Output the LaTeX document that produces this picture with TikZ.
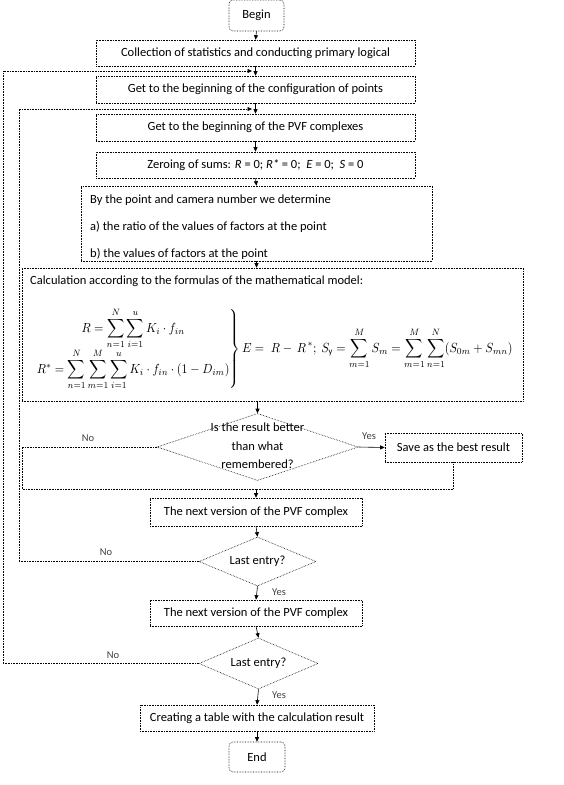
\documentclass[tikz,border=0pt]{standalone}
\usepackage{fontspec}
\setmainfont{Carlito}
\usepackage{amsmath}
\usetikzlibrary{arrows.meta,shapes.geometric}
\begin{document}
\begin{tikzpicture}[x=1pt,y=-1pt,
  box/.style={draw,densely dotted,line width=0.6pt,inner sep=0pt,font=\fontsize{12.5}{15}\selectfont},
  term/.style={box,rounded corners=4pt},
  dia/.style={draw,densely dotted,line width=0.6pt,diamond,inner sep=0pt},
  txt/.style={inner sep=0pt,font=\fontsize{12.5}{15}\selectfont,align=center},
  lbl/.style={inner sep=0pt,font=\fontsize{10.5}{12}\selectfont,text=black!75},
  arr/.style={line width=0.6pt,-{Triangle[length=4.5pt,width=4pt]}},
  loopline/.style={densely dotted,line width=0.6pt},
  looparr/.style={densely dotted,line width=0.6pt,-{Triangle[length=4.5pt,width=4pt]}}]
\useasboundingbox (0,0) rectangle (564,785);

\node[term,minimum width=55pt,minimum height=31pt] (begin) at (256.5,15.5) {Begin};
\node[box,minimum width=319pt,minimum height=26pt] (b1) at (255.5,53) {Collection of statistics and conducting primary logical};
\node[box,minimum width=319pt,minimum height=27pt] (b2) at (255.5,89.5) {Get to the beginning of the configuration of points};
\node[box,minimum width=319pt,minimum height=27pt] (b3) at (255.5,127.5) {Get to the beginning of the PVF complexes};
\node[box,minimum width=319pt,minimum height=26pt] (b4) at (255.5,165) {Zeroing of sums: \textit{R} = 0; \textit{R*} = 0; \ \textit{E} = 0; \ \textit{S} = 0};
\node[box,minimum width=351pt,minimum height=75pt] (b5) at (256.5,223.5) {};
\node[txt,anchor=west,align=left] (b5t) at (90,227) {By the point and camera number we determine\\[12pt]a) the ratio of the values of factors at the point\\[12pt]b) the values of factors at the point};
\node[box,minimum width=501pt,minimum height=133pt] (b6) at (272.5,334.5) {};
\node[txt,anchor=west] (b6t) at (30,281) {Calculation according to the formulas of the mathematical model:};
\node[inner sep=0pt] (form) at (274,349) {\scalebox{1.2}[1.32]{$\displaystyle
\left.\begin{array}{@{}c@{}}
R=\displaystyle\sum_{n=1}^{N}\sum_{i=1}^{u}K_i\cdot f_{in}\\[6pt]
R^{*}=\displaystyle\sum_{n=1}^{N}\sum_{m=1}^{M}\sum_{i=1}^{u}K_i\cdot f_{in}\cdot(1-D_{im})
\end{array}\right\}
E=\;R-\,R^{\,*};\ S_{\mathrm{y}}=\sum_{m=1}^{M}S_m=\sum_{m=1}^{M}\sum_{n=1}^{N}(S_{0m}+S_{mn})$}};

\node[dia,minimum width=201pt,minimum height=67pt] (d1) at (257.5,447) {};
\node[txt] (d1t) at (257.5,446) {Is the result better\\[3.5pt]than what\\[3.5pt]remembered?};
\node[box,minimum width=137pt,minimum height=29pt] (save) at (453.5,447.5) {Save as the best result};
\node[box,minimum width=212pt,minimum height=28pt] (nv1) at (256,512) {The next version of the PVF complex};
\node[dia,minimum width=117pt,minimum height=49pt] (d2) at (257.5,561.5) {};
\node[txt] (d2t) at (257.5,561.5) {Last entry?};
\node[box,minimum width=212pt,minimum height=26pt] (nv2) at (256,613) {The next version of the PVF complex};
\node[dia,minimum width=119pt,minimum height=51pt] (d3) at (258.5,663.5) {};
\node[txt] (d3t) at (258.5,663.5) {Last entry?};
\node[box,minimum width=234pt,minimum height=26pt] (cr) at (257,718) {Creating a table with the calculation result};
\node[term,minimum width=56pt,minimum height=30pt] (end) at (257,757) {End};

\draw[arr] (begin.south) -- (b1.north);
\draw[arr] (b1.south) -- (b2.north);
\draw[arr] (b2.south) -- (b3.north);
\draw[arr] (b3.south) -- (b4.north);
\draw[arr] (b4.south) -- (b5.north);
\draw[arr] (b5.south) -- (b5.south |- b6.north);
\draw[arr] (d1.north |- b6.south) -- (d1.north);
\draw[arr] (d1.east) -- (save.west);
\node[lbl] (y1) at (369,436) {Yes};
\coordinate (j1) at (256,489);
\draw[loopline] (d1.west) -- (22,447) -- (22,489) -- (j1);
\draw[loopline] (save.south) -- (save.south |- j1) -- (j1);
\node[lbl] (n1) at (88,438) {No};
\draw[arr] (j1) -- (nv1.north);
\draw[arr] (nv1.south) -- (d2.north);
\draw[arr] (d2.south) -- (nv2.north);
\node[lbl] (y2) at (279,592) {Yes};
\draw[arr] (nv2.south) -- (d3.north);
\draw[arr] (d3.south) -- (cr.north);
\node[lbl] (y3) at (279,695) {Yes};
\draw[arr] (cr.south) -- (end.north);
\coordinate (e2) at (252,109);
\draw[looparr] (d2.west) -- (19,561.5) -- (19,109) -- (e2);
\node[lbl] (n2) at (106,552) {No};
\coordinate (e3) at (252,71);
\draw[looparr] (d3.west) -- (3,663.5) -- (3,71) -- (e3);
\node[lbl] (n3) at (113,655) {No};
\end{tikzpicture}
\end{document}
